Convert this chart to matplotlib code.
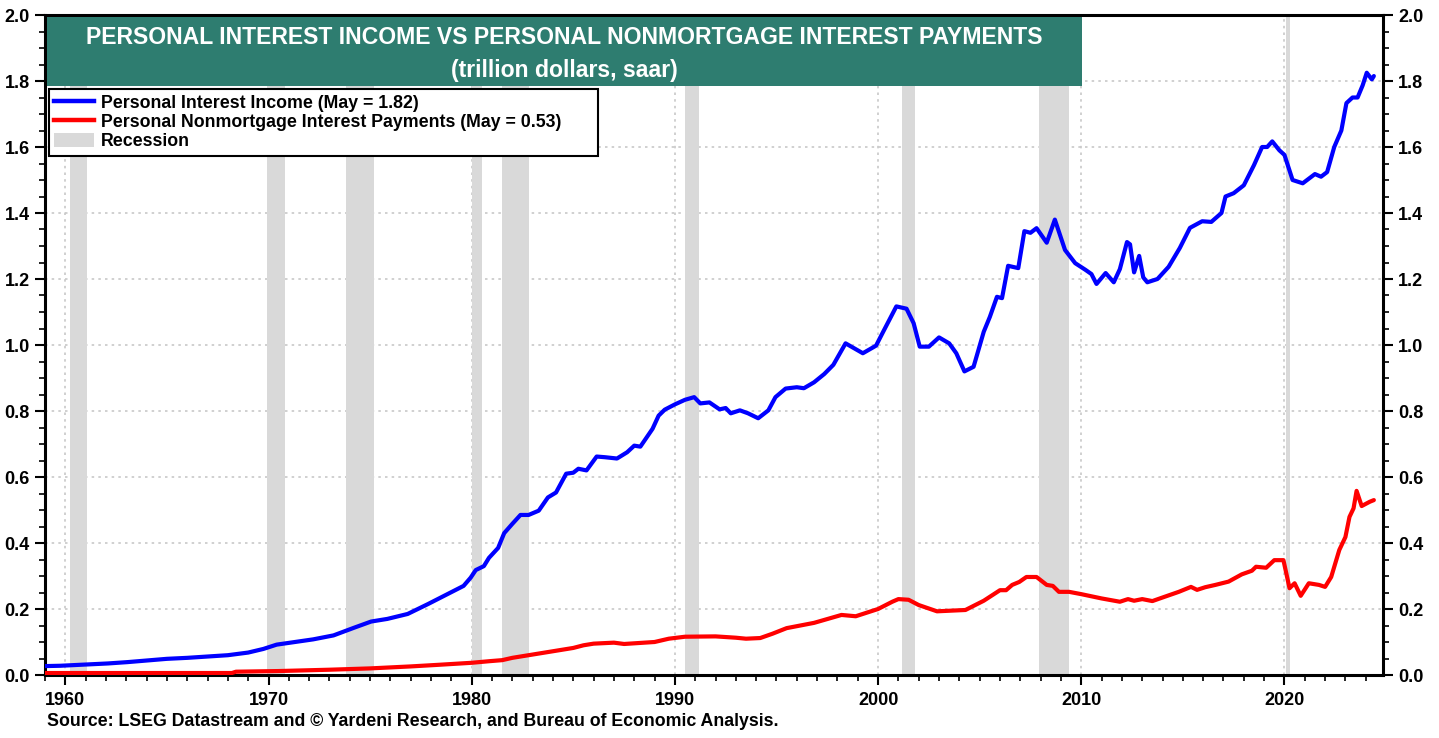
import matplotlib
matplotlib.use("Agg")
import matplotlib.pyplot as plt
from matplotlib.patches import Rectangle, Patch
from matplotlib.lines import Line2D
from matplotlib.ticker import MultipleLocator, FixedLocator

plt.rcParams['font.family'] = ['Liberation Sans', 'DejaVu Sans']

# ---------------- data ----------------
income_years = [1959.0, 1959.75, 1961.1, 1962.1, 1963.05, 1964.0, 1965.0, 1966.0, 1967.0, 1968.0,
                1969.0, 1969.75, 1970.4, 1971.2, 1972.2, 1973.2, 1974.2, 1975.05, 1975.85, 1976.85,
                1977.85, 1978.8, 1979.6, 1979.95, 1980.2, 1980.6, 1980.85, 1981.3, 1981.6, 1982.0,
                1982.4, 1982.8, 1983.3, 1983.75, 1984.15, 1984.65, 1985.0, 1985.25, 1985.65, 1986.15,
                1986.55, 1987.15, 1987.65, 1988.0, 1988.3, 1988.9, 1989.2, 1989.5, 1990.0, 1990.5,
                1990.95, 1991.25, 1991.7, 1992.2, 1992.5, 1992.75, 1993.2, 1993.6, 1994.1, 1994.6,
                1994.95, 1995.45, 1996.0, 1996.35, 1996.85, 1997.35, 1997.8, 1998.4, 1999.25, 1999.9,
                2000.25, 2000.9, 2001.4, 2001.75, 2002.05, 2002.5, 2003.0, 2003.5, 2003.85, 2004.25,
                2004.7, 2005.2, 2005.5, 2005.85, 2006.1, 2006.4, 2006.9, 2007.2, 2007.5, 2007.8,
                2008.3, 2008.7, 2009.2, 2009.7, 2010.2, 2010.5, 2010.75, 2011.2, 2011.6, 2011.9,
                2012.25, 2012.4, 2012.6, 2012.85, 2013.05, 2013.25, 2013.75, 2014.3, 2014.85, 2015.35,
                2015.95, 2016.4, 2016.9, 2017.1, 2017.5, 2018.0, 2018.5, 2018.9, 2019.15, 2019.4,
                2019.75, 2020.0, 2020.4, 2020.9, 2021.5, 2021.8, 2022.1, 2022.45, 2022.8, 2023.05,
                2023.35, 2023.6, 2023.85, 2024.05, 2024.3, 2024.4]
income_vals = [0.027, 0.028, 0.032, 0.035, 0.039, 0.044, 0.049, 0.052, 0.056, 0.060,
               0.068, 0.079, 0.092, 0.099, 0.108, 0.120, 0.143, 0.162, 0.170, 0.185,
               0.215, 0.245, 0.270, 0.295, 0.318, 0.330, 0.355, 0.385, 0.430, 0.458,
               0.485, 0.485, 0.498, 0.538, 0.553, 0.610, 0.613, 0.625, 0.620, 0.662,
               0.660, 0.656, 0.675, 0.695, 0.692, 0.746, 0.786, 0.804, 0.820, 0.834,
               0.842, 0.823, 0.826, 0.805, 0.809, 0.793, 0.802, 0.793, 0.778, 0.802,
               0.842, 0.868, 0.872, 0.869, 0.887, 0.912, 0.940, 1.005, 0.975, 0.998,
               1.040, 1.117, 1.110, 1.066, 0.995, 0.995, 1.023, 1.005, 0.975, 0.920,
               0.934, 1.040, 1.085, 1.146, 1.142, 1.240, 1.233, 1.345, 1.340, 1.354,
               1.310, 1.380, 1.288, 1.248, 1.228, 1.215, 1.185, 1.218, 1.190, 1.230,
               1.312, 1.305, 1.220, 1.270, 1.205, 1.190, 1.200, 1.237, 1.294, 1.355,
               1.375, 1.373, 1.400, 1.450, 1.460, 1.484, 1.545, 1.600, 1.600, 1.617,
               1.590, 1.576, 1.500, 1.490, 1.518, 1.510, 1.524, 1.600, 1.650, 1.733,
               1.750, 1.750, 1.787, 1.825, 1.805, 1.815]

payment_years = [1959.0, 1968.2, 1968.4, 1970.5, 1973.0, 1975.0, 1977.0, 1978.4, 1980.0, 1980.9,
                 1981.5, 1982.0, 1983.0, 1984.0, 1985.0, 1985.5, 1986.0, 1987.0, 1987.5, 1988.0,
                 1989.0, 1989.7, 1990.5, 1992.0, 1993.0, 1993.5, 1994.2, 1994.8, 1995.5, 1996.85,
                 1998.2, 1998.9, 2000.0, 2000.7, 2001.0, 2001.5, 2002.0, 2002.9, 2004.3, 2005.2,
                 2006.0, 2006.3, 2006.6, 2006.95, 2007.3, 2007.8, 2008.3, 2008.6, 2008.9, 2009.4,
                 2010.0, 2011.0, 2011.9, 2012.3, 2012.6, 2013.0, 2013.5, 2014.1, 2014.8, 2015.4,
                 2015.7, 2016.1, 2016.6, 2017.25, 2017.9, 2018.4, 2018.6, 2019.1, 2019.5, 2019.95,
                 2020.25, 2020.5, 2020.8, 2021.2, 2021.7, 2022.0, 2022.3, 2022.7, 2023.0, 2023.2,
                 2023.4, 2023.55, 2023.8, 2024.2, 2024.4]
payment_vals = [0.006, 0.006, 0.010, 0.012, 0.016, 0.020, 0.026, 0.031, 0.037, 0.042,
                0.045, 0.052, 0.062, 0.072, 0.082, 0.090, 0.095, 0.098, 0.094, 0.096,
                0.100, 0.110, 0.116, 0.117, 0.113, 0.110, 0.112, 0.125, 0.142, 0.158,
                0.182, 0.178, 0.200, 0.222, 0.230, 0.228, 0.212, 0.193, 0.197, 0.225,
                0.257, 0.257, 0.273, 0.282, 0.297, 0.297, 0.273, 0.270, 0.252, 0.252,
                0.245, 0.232, 0.222, 0.230, 0.225, 0.230, 0.224, 0.237, 0.252, 0.267,
                0.258, 0.266, 0.273, 0.283, 0.305, 0.316, 0.328, 0.325, 0.348, 0.348,
                0.263, 0.278, 0.240, 0.278, 0.273, 0.267, 0.297, 0.379, 0.418, 0.479,
                0.505, 0.558, 0.512, 0.525, 0.530]

recession_starts = [1960.25, 1969.92, 1973.83, 1980.0, 1981.5, 1990.5, 2001.17, 2007.92, 2020.08]
recession_ends = [1961.08, 1970.83, 1975.17, 1980.5, 1982.83, 1991.17, 2001.83, 2009.42, 2020.25]

x_ticks = [1960, 1970, 1980, 1990, 2000, 2010, 2020]
y_ticks = [0.0, 0.2, 0.4, 0.6, 0.8, 1.0, 1.2, 1.4, 1.6, 1.8, 2.0]

title_line1 = "PERSONAL INTEREST INCOME VS PERSONAL NONMORTGAGE INTEREST PAYMENTS"
title_line2 = "(trillion dollars, saar)"
label_income = "Personal Interest Income (May = 1.82)"
label_payment = "Personal Nonmortgage Interest Payments (May = 0.53)"
source = "Source: LSEG Datastream and \u00a9 Yardeni Research, and Bureau of Economic Analysis."

# ---------------- figure ----------------
W, H = 1439, 738
fig = plt.figure(figsize=(W / 100, H / 100), dpi=100)
ax_l, ax_r, ax_t, ax_b = 45, 1383, 15, 675
ax = fig.add_axes([ax_l / W, 1 - ax_b / H, (ax_r - ax_l) / W, (ax_b - ax_t) / H])

ax.set_xlim(1959.0, 2024.85)
ax.set_ylim(0, 2.0)

rec_color = '#d9d9d9'
for s, e in zip(recession_starts, recession_ends):
    ax.axvspan(s, e, color=rec_color, lw=0, zorder=1)

grid_kw = dict(color='#c8c8c8', lw=1.2, linestyle=(0, (1.5, 2.5)), zorder=0.5)
for yv in y_ticks[1:-1]:
    ax.axhline(yv, **grid_kw)
for xv in x_ticks:
    ax.axvline(xv, **grid_kw)

ax.plot(income_years, income_vals, color='#0000ff', lw=3.0, zorder=3,
        solid_joinstyle='round', solid_capstyle='round')
ax.plot(payment_years, payment_vals, color='#ff0000', lw=3.0, zorder=3,
        solid_joinstyle='round', solid_capstyle='round')

# ticks
ax.xaxis.set_major_locator(FixedLocator(x_ticks))
ax.xaxis.set_minor_locator(MultipleLocator(1))
ax.yaxis.set_major_locator(FixedLocator(y_ticks))
ax.yaxis.set_minor_locator(MultipleLocator(0.05))
ax.set_xticklabels([str(v) for v in x_ticks])
ax.set_yticklabels([f"{v:.1f}" for v in y_ticks])
ax.tick_params(axis='both', which='major', direction='out', length=7, width=1.5,
               labelsize=13, pad=4)
ax.tick_params(axis='both', which='minor', direction='out', length=4, width=1.2)
ax.tick_params(axis='y', which='both', left=True, right=True, labelleft=True, labelright=True)
ax.tick_params(axis='x', which='major', pad=5)
for t in ax.yaxis.get_major_ticks() + ax.xaxis.get_major_ticks():
    t.label1.set_fontweight('bold')
    t.label2.set_fontweight('bold')
for sp in ax.spines.values():
    sp.set_linewidth(2.2)
    sp.set_color('black')

# title box
tb_l, tb_r, tb_t, tb_b = 47, 1082, 17, 86
fig.patches.append(Rectangle((tb_l / W, 1 - tb_b / H), (tb_r - tb_l) / W, (tb_b - tb_t) / H,
                             transform=fig.transFigure, facecolor='#2e7d70', edgecolor='none',
                             zorder=5))
cx = (tb_l + tb_r) / 2 / W
fig.text(cx, 1 - 37 / H, title_line1, color='white', fontsize=16.6, fontweight='bold',
         ha='center', va='center', zorder=6)
fig.text(cx, 1 - 70 / H, title_line2, color='white', fontsize=16.6, fontweight='bold',
         ha='center', va='center', zorder=6)

# legend
handles = [Line2D([], [], color='#0000ff', lw=3.2),
           Line2D([], [], color='#ff0000', lw=3.2),
           Patch(facecolor=rec_color, edgecolor='none')]
labels = [label_income, label_payment, 'Recession']
lg_l, lg_r, lg_t = 49, 598, 89
x0 = (lg_l - ax_l) / (ax_r - ax_l)
w0 = (lg_r - lg_l) / (ax_r - ax_l)
y1 = 1 - (lg_t - ax_t) / (ax_b - ax_t)
leg = ax.legend(handles, labels, loc='upper left', mode='expand',
                bbox_to_anchor=(x0, y1 - 0.2, w0, 0.2),
                frameon=True, fancybox=False, edgecolor='black', framealpha=1,
                prop={'weight': 'bold', 'size': 12.8}, handlelength=2.25, handleheight=0.85,
                borderpad=0.3, labelspacing=0.12, handletextpad=0.35, borderaxespad=0)
leg.get_frame().set_linewidth(1.5)
leg.set_zorder(7)

fig.text(47 / W, 1 - 722 / H, source, fontsize=12.8, fontweight='bold', ha='left', va='center')

fig.savefig('out.png', dpi=100)
